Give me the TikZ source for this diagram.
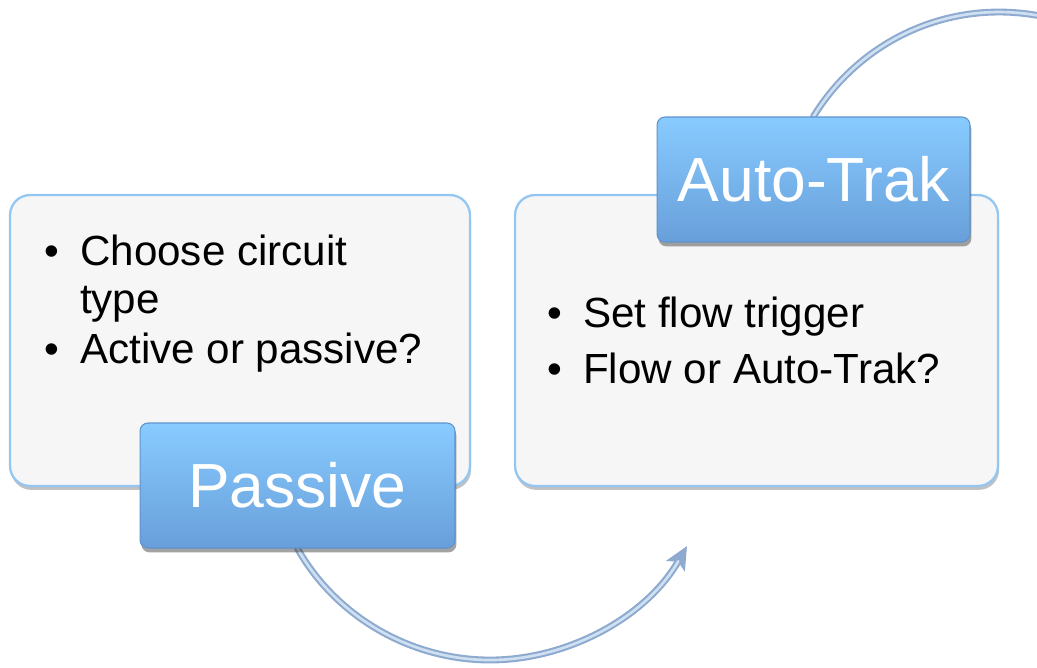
\documentclass[tikz,border=0pt]{standalone}
\usepackage{fontspec}
\setmainfont{Liberation Sans}
\usetikzlibrary{shadows,arrows.meta}
\pgfdeclarelayer{background}
\pgfsetlayers{background,main}
\definecolor{panelfill}{HTML}{F6F6F6}
\definecolor{panelline}{HTML}{94C6F2}
\definecolor{bluetop}{HTML}{88CBFF}
\definecolor{bluebot}{HTML}{689FDA}
\definecolor{blueline}{HTML}{5F93CC}
\definecolor{arcdark}{HTML}{8EABCF}
\definecolor{arclight}{HTML}{CFE0F3}
\tikzset{
  panel/.style={draw=panelline, line width=1.3pt, fill=panelfill, rounded corners=0.4cm,
    drop shadow={shadow xshift=0.6pt, shadow yshift=-2.2pt, opacity=0.35, fill=black!70},
    inner sep=0pt},
  bluebox/.style={draw=blueline, line width=0.6pt, top color=bluetop, bottom color=bluebot,
    rounded corners=0.16cm, text=white, font=\fontsize{35.5}{40}\selectfont,
    drop shadow={shadow xshift=0.8pt, shadow yshift=-2.5pt, opacity=0.45, fill=black!80},
    inner sep=0pt},
  itemtext/.style={anchor=base west, inner sep=0pt, font=\fontsize{24}{28}\selectfont},
  arcouter/.style={draw=arcdark, line width=3.9pt, line cap=round},
  arcinner/.style={draw=arclight, line width=1.5pt, line cap=round},
}
\newcommand{\bul}{\makebox[0.85em][l]{\textbullet}}
\begin{document}
\begin{tikzpicture}[x=0.02cm, y=-0.02cm]
\useasboundingbox (0,0) rectangle (1037,667);
% panels
\node[panel, minimum width=9.2cm, minimum height=5.82cm] (lp) at (240,340.5) {};
\node[panel, minimum width=9.66cm, minimum height=5.82cm] (rp) at (756.5,340.5) {};
% panel texts
\node[itemtext] (l1) at (44,265.5) {\bul Choose circuit};
\node[itemtext] (l2) at (44,313) {\makebox[0.85em]{}type};
\node[itemtext] (l3) at (44,363) {\bul Active or passive?};
\node[itemtext] (r1) at (547,327.5) {\bul Set flow trigger};
\node[itemtext] (r2) at (547,383) {\bul Flow or Auto-Trak?};
% blue boxes
\node[bluebox, minimum width=6.3cm, minimum height=2.5cm] (pas) at (297.5,485.5) {Passive};
\node[bluebox, minimum width=6.26cm, minimum height=2.5cm] (at) at (813.5,179.5) {Auto-Trak};
% arc ends
\coordinate (botend) at (687,546);
\coordinate (topend) at (1036.5,15.3);
\begin{pgfonlayer}{background}
% bottom arc
\path[arcouter, -{Stealth[length=0.46cm, width=0.42cm, inset=0.1cm]}]
  (pas.south) .. controls (336,617) and (411,660) .. (490,660)
  .. controls (569,660) and (647,616) .. (botend);
\path[arcinner, shorten >=0.35cm]
  (pas.south) .. controls (336,617) and (411,660) .. (490,660)
  .. controls (569,660) and (647,616) .. (botend);
% top arc
\path[arcouter]
  (at.north) .. controls (835.8,79.9) and (869.3,49.8) .. (909.1,31.6)
  .. controls (948.9,13.4) and (993.4,7.7) .. (topend);
\path[arcinner]
  (at.north) .. controls (835.8,79.9) and (869.3,49.8) .. (909.1,31.6)
  .. controls (948.9,13.4) and (993.4,7.7) .. (topend);
\end{pgfonlayer}
\end{tikzpicture}
\end{document}
